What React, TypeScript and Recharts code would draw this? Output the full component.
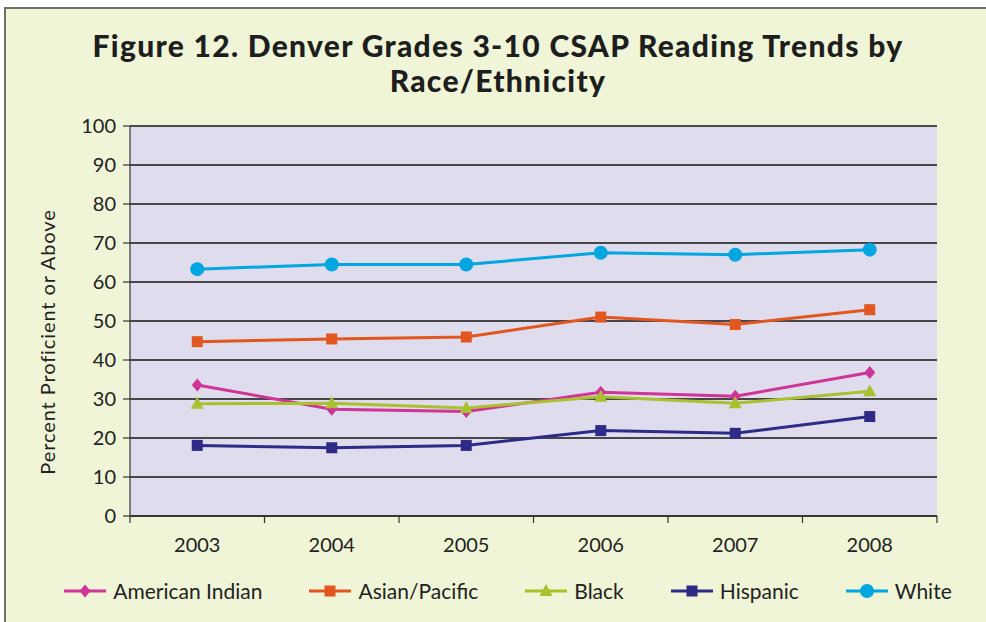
import React from 'react';
import { LineChart, Line, XAxis, YAxis, CartesianGrid } from 'recharts';

// values (percent proficient or above)
const years = ['2003', '2004', '2005', '2006', '2007', '2008'];
const americanIndian = [33.6, 27.4, 26.8, 31.7, 30.7, 36.8];
const asianPacific = [44.7, 45.4, 45.9, 51.0, 49.1, 52.9];
const black = [28.8, 28.9, 27.7, 30.6, 28.9, 32.0];
const hispanic = [18.1, 17.5, 18.1, 21.9, 21.2, 25.5];
const white = [63.3, 64.5, 64.5, 67.5, 67.0, 68.3];
const yTicks = [0, 10, 20, 30, 40, 50, 60, 70, 80, 90, 100];

const series = [
    { key: 'americanIndian', name: 'American Indian', color: '#cf3597', shape: 'diamond' },
    { key: 'asianPacific', name: 'Asian/Pacific', color: '#e2571f', shape: 'square' },
    { key: 'black', name: 'Black', color: '#a9c02f', shape: 'triangle' },
    { key: 'hispanic', name: 'Hispanic', color: '#2f2a87', shape: 'square' },
    { key: 'white', name: 'White', color: '#00a6df', shape: 'circle' },
];

const data = years.map((year, i) => ({
    year,
    americanIndian: americanIndian[i],
    asianPacific: asianPacific[i],
    black: black[i],
    hispanic: hispanic[i],
    white: white[i],
}));

const W = 986;
const H = 622;
const MARGIN = { top: 126, right: 49, left: 70, bottom: 66 };
const Y_AXIS_W = 60;
const PLOT_W = W - MARGIN.left - Y_AXIS_W - MARGIN.right;
const BAND = PLOT_W / years.length;
const FONT = 'Lato, "Open Sans", sans-serif';

const Marker = ({ shape, cx, cy, color }: { shape: string; cx: number; cy: number; color: string }) => {
    if (cx == null || cy == null) return null;
    if (shape === 'circle') return <circle cx={cx} cy={cy} r={7} fill={color} />;
    if (shape === 'square') return <rect x={cx - 5.5} y={cy - 5.5} width={11} height={11} fill={color} />;
    if (shape === 'diamond')
        return <polygon points={`${cx},${cy - 6.5} ${cx + 5.5},${cy} ${cx},${cy + 6.5} ${cx - 5.5},${cy}`} fill={color} />;
    return <polygon points={`${cx},${cy - 7} ${cx + 6.5},${cy + 5} ${cx - 6.5},${cy + 5}`} fill={color} />;
};

const XTick = (props: any) => {
    const { x, y, payload, index } = props;
    const left = x - BAND / 2;
    const right = x + BAND / 2;
    return (
        <g>
            <line x1={left} x2={left} y1={y} y2={y + 7} stroke="#333" strokeWidth={1.2} />
            {index === years.length - 1 && (
                <line x1={right} x2={right} y1={y} y2={y + 7} stroke="#333" strokeWidth={1.2} />
            )}
            <text x={x} y={y + 36} textAnchor="middle" fill="#222" fontSize={20} fontFamily={FONT}>
                {payload.value}
            </text>
        </g>
    );
};

const LegendIcon = ({ shape, color }: { shape: string; color: string }) => (
    <svg width={42} height={16} style={{ marginRight: 7 }}>
        <line x1={0} x2={42} y1={8} y2={8} stroke={color} strokeWidth={3} />
        <Marker shape={shape} cx={21} cy={8} color={color} />
    </svg>
);

export default function App() {
    return (
        <div style={{ position: 'absolute', left: 0, top: 0, width: W, height: H, background: '#fff', overflow: 'hidden', fontFamily: FONT }}>
            <div
                style={{
                    position: 'absolute', left: 4, top: 7, width: W, height: H,
                    background: '#eff5d6', borderLeft: '2px solid #6f6f6f', borderTop: '2px solid #6f6f6f',
                }}
            />
            <div
                style={{
                    position: 'absolute', left: 0, top: 28, width: W + 10, textAlign: 'center',
                    fontSize: 30, fontWeight: 900, lineHeight: '35px', color: '#1e1e1e', letterSpacing: 1.3,
                }}
            >
                Figure 12. Denver Grades 3-10 CSAP Reading Trends by
                <br />
                Race/Ethnicity
            </div>
            <div style={{ position: 'absolute', left: 0, top: 0 }}>
                <LineChart width={W} height={H} data={data} margin={MARGIN}>
                    <CartesianGrid vertical={false} fill="#dfdded" stroke="#151515" strokeWidth={1.4} />
                    <XAxis
                        dataKey="year"
                        scale="band"
                        axisLine={{ stroke: '#333', strokeWidth: 1.4 }}
                        tickLine={false}
                        tickSize={0}
                        tickMargin={0}
                        height={40}
                        interval={0}
                        tick={<XTick />}
                    />
                    <YAxis
                        domain={[0, 100]}
                        ticks={yTicks}
                        width={Y_AXIS_W}
                        tickSize={7}
                        tickMargin={7}
                        interval={0}
                        axisLine={{ stroke: '#333', strokeWidth: 1.2 }}
                        tickLine={{ stroke: '#333', strokeWidth: 1.2 }}
                        tick={{ fill: '#222', fontSize: 20, fontFamily: FONT }}
                    />
                    {series.map((s) => (
                        <Line
                            key={s.key}
                            dataKey={s.key}
                            name={s.name}
                            stroke={s.color}
                            strokeWidth={3}
                            isAnimationActive={false}
                            dot={(p: any) => <Marker key={`${s.key}-${p.index}`} shape={s.shape} cx={p.cx} cy={p.cy} color={s.color} />}
                            activeDot={false}
                        />
                    ))}
                </LineChart>
            </div>
            <svg style={{ position: 'absolute', left: 0, top: 0 }} width={100} height={H}>
                <text
                    x={47} y={342} transform="rotate(-90 47 342)" textAnchor="middle" dominantBaseline="central"
                    fill="#222" fontSize={20} letterSpacing={0.9} fontFamily={FONT}
                >
                    Percent Proficient or Above
                </text>
            </svg>
            <div
                style={{
                    position: 'absolute', left: 40, top: 578, width: 936, display: 'flex',
                    justifyContent: 'center', alignItems: 'center', gap: 47, fontSize: 21, color: '#222',
                }}
            >
                {series.map((s) => (
                    <div key={s.key} style={{ display: 'flex', alignItems: 'center' }}>
                        <LegendIcon shape={s.shape} color={s.color} />
                        <span>{s.name}</span>
                    </div>
                ))}
            </div>
        </div>
    );
}
